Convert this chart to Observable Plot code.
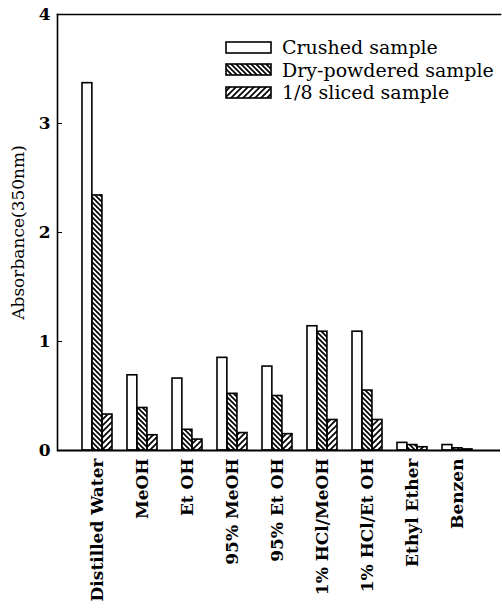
<!DOCTYPE html>
<html>
<head>
<meta charset="utf-8">
<script src="https://cdn.jsdelivr.net/npm/d3@7"></script>
<script src="https://cdn.jsdelivr.net/npm/@observablehq/plot@0.6"></script>
<style>
  html, body { margin: 0; padding: 0; background: white; }
  #wrap { position: relative; width: 502px; height: 609px; font-family: "DejaVu Serif", serif; }
  #legend { position: absolute; left: 225px; top: 36px; font-size: 19px; line-height: 22.5px; color: black; }
  #legend .row { display: flex; align-items: center; white-space: nowrap; }
  #legend svg { margin-right: 9px; }
</style>
</head>
<body>
<svg width="0" height="0" style="position:absolute">
  <defs>
    <pattern id="hatchDry" patternUnits="userSpaceOnUse" width="5" height="5">
      <rect width="5" height="5" fill="white"/>
      <path d="M-1,-1L6,6M-1,4L1,6M4,-1L6,1" stroke="black" stroke-width="1.7"/>
    </pattern>
    <pattern id="hatchSliced" patternUnits="userSpaceOnUse" width="6" height="6">
      <rect width="6" height="6" fill="white"/>
      <path d="M-1,7L7,-1M-1,1L1,-1M5,7L7,5" stroke="black" stroke-width="1.7"/>
    </pattern>
  </defs>
</svg>
<div id="wrap">
  <div id="chart"></div>
  <div id="legend"></div>
</div>
<script>
const categories = ["Distilled Water", "MeOH", "Et OH", "95% MeOH", "95% Et OH", "1% HCl/MeOH", "1% HCl/Et OH", "Ethyl Ether", "Benzen"];
const crushed = [3.37, 0.69, 0.66, 0.85, 0.77, 1.14, 1.09, 0.07, 0.05];
const dryPowdered = [2.34, 0.39, 0.19, 0.52, 0.50, 1.09, 0.55, 0.05, 0.02];
const sliced = [0.33, 0.14, 0.10, 0.16, 0.15, 0.28, 0.28, 0.03, 0.01];
const seriesNames = ["Crushed sample", "Dry-powdered sample", "1/8 sliced sample"];
const seriesFills = ["white", "url(#hatchDry)", "url(#hatchSliced)"];
const yTicks = [0, 1, 2, 3, 4];
const yLabel = "Absorbance(350nm)";

const data = categories.map((c, i) => ({cat: c, crushed: crushed[i], dry: dryPowdered[i], sliced: sliced[i]}));

const step = 45.1;
const pad = 0.33;
const bw = step * (1 - pad);
const third = bw / 3;

const chart = Plot.plot({
  width: 502,
  height: 609,
  marginLeft: 57,
  marginRight: 2,
  marginTop: 14,
  marginBottom: 159,
  style: {fontFamily: "DejaVu Serif", fontSize: "16px", background: "white", color: "black"},
  x: {domain: categories, range: [73.9, 73.9 + 9 * step], paddingInner: pad, paddingOuter: pad / 2, axis: null},
  y: {domain: [0, 4], axis: null},
  marks: [
    Plot.barY(data, {x: "cat", y: "crushed", fill: seriesFills[0], stroke: "black", strokeWidth: 1.6, insetRight: 2 * third}),
    Plot.barY(data, {x: "cat", y: "dry", fill: seriesFills[1], stroke: "black", strokeWidth: 1.6, insetLeft: third, insetRight: third}),
    Plot.barY(data, {x: "cat", y: "sliced", fill: seriesFills[2], stroke: "black", strokeWidth: 1.6, insetLeft: 2 * third}),
    Plot.frame({anchor: "left", strokeWidth: 1.6}),
    Plot.frame({anchor: "top", strokeWidth: 1.6}),
    Plot.ruleY([0], {strokeWidth: 2}),
    Plot.axisX({tickRotate: -90, tickSize: 0, tickPadding: 8, fontSize: 17, fontWeight: "bold", label: null}),
    Plot.axisY({ticks: yTicks, tickSize: 0, tickPadding: 7, fontSize: 17, fontWeight: "bold",
      tickFormat: d3.format("d"), label: null}),
    Plot.axisY({ticks: [], tickSize: 0, fontSize: 17,
      label: yLabel, labelAnchor: "center", labelArrow: "none", labelOffset: 46, dy: 5}),
    Plot.axisY({ticks: [1, 2, 3], tickSize: -5, tickFormat: () => "", label: null})
  ]
});
document.getElementById("chart").appendChild(chart);

const legend = document.getElementById("legend");
seriesNames.forEach((name, i) => {
  const row = document.createElement("div");
  row.className = "row";
  row.innerHTML = `<svg width="48" height="13"><rect x="1" y="1" width="45" height="11" fill="${seriesFills[i]}" stroke="black" stroke-width="1.6"/></svg><span>${name}</span>`;
  legend.appendChild(row);
});
</script>
</body>
</html>
